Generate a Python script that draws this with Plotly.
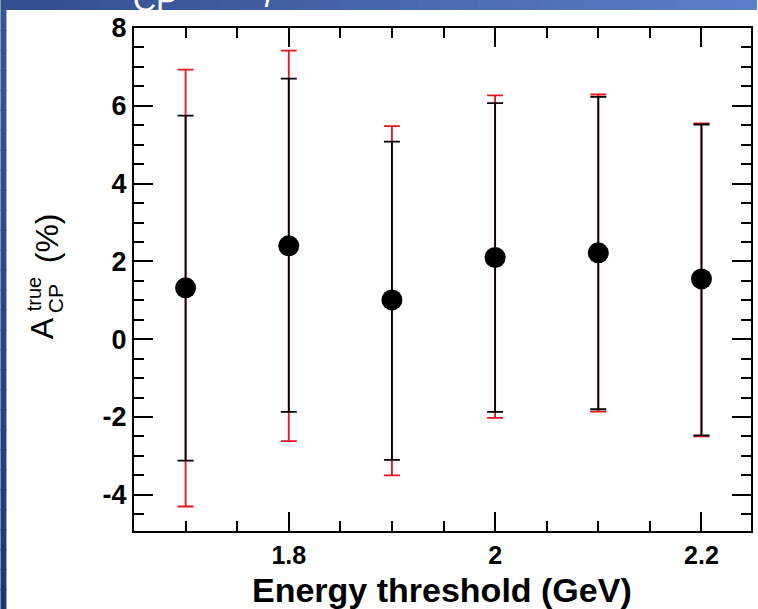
import plotly.graph_objects as go

# ---------------- data ----------------
threshold = [1.7, 1.8, 1.9, 2.0, 2.1, 2.2]          # GeV
acp = [1.32, 2.40, 1.01, 2.10, 2.22, 1.55]           # %
stat_hi = [5.75, 6.70, 5.08, 6.07, 6.23, 5.52]
stat_lo = [-3.12, -1.87, -3.10, -1.87, -1.80, -2.47]
tot_hi = [6.93, 7.42, 5.48, 6.27, 6.29, 5.55]
tot_lo = [-4.30, -2.62, -3.50, -2.02, -1.86, -2.50]

x_ticks = [1.8, 2.0, 2.2]
x_ticklabels = ["1.8", "2", "2.2"]
y_ticks = [-4, -2, 0, 2, 4, 6, 8]
y_ticklabels = ["-4", "-2", "0", "2", "4", "6", "8"]
x_title = "Energy threshold (GeV)"

# ---------------- geometry ----------------
W, H = 758, 609
L, R, T, B = 134, 753, 28, 531   # plot frame in pixels


def px(xp):
    return (xp - L) / (R - L)


def py(yp):
    return (B - yp) / (B - T)


stat_up = [h - v for h, v in zip(stat_hi, acp)]
stat_dn = [v - l for l, v in zip(stat_lo, acp)]
tot_up = [h - v for h, v in zip(tot_hi, acp)]
tot_dn = [v - l for l, v in zip(tot_lo, acp)]

fig = go.Figure()

# total (red) uncertainty
fig.add_trace(go.Scatter(
    x=threshold, y=acp, mode="markers",
    marker=dict(size=1, color="rgba(0,0,0,0)"),
    error_y=dict(type="data", symmetric=False, array=tot_up, arrayminus=tot_dn,
                 color="#e8141c", thickness=1.8, width=8),
    showlegend=False, hoverinfo="skip"))

# statistical (black) uncertainty + points
fig.add_trace(go.Scatter(
    x=threshold, y=acp, mode="markers",
    marker=dict(size=21, color="black", symbol="circle"),
    error_y=dict(type="data", symmetric=False, array=stat_up, arrayminus=stat_dn,
                 color="black", thickness=1.8, width=8),
    showlegend=False))

shapes = []
# blue slide background (gradient approximated by stripes)
c0 = (52, 78, 144)
c1 = (92, 126, 200)
n = 38
for i in range(n):
    f = i / (n - 1)
    col = "rgb(%d,%d,%d)" % tuple(int(a + (b - a) * f) for a, b in zip(c0, c1))
    shapes.append(dict(type="rect", xref="paper", yref="paper",
                       x0=px(i * W / n), x1=px((i + 1) * W / n + 1),
                       y0=py(10), y1=py(0), fillcolor=col, line_width=0, layer="below"))
m = 30
d0 = (56, 86, 150)
d1 = (33, 55, 118)
for i in range(m):
    f = i / (m - 1)
    col = "rgb(%d,%d,%d)" % tuple(int(a + (b - a) * f) for a, b in zip(d0, d1))
    shapes.append(dict(type="rect", xref="paper", yref="paper",
                       x0=px(0), x1=px(6),
                       y0=py(10 + (i + 1) * (H - 10) / m + 1), y1=py(10 + i * (H - 10) / m),
                       fillcolor=col, line_width=0, layer="below"))

annotations = [
    # cut-off slide title fragments
    dict(text="CP", xref="paper", yref="paper", x=px(131), y=py(20),
         xanchor="left", yanchor="bottom", showarrow=False,
         font=dict(family="Liberation Sans", size=32, color="white")),
    dict(text="γ", xref="paper", yref="paper", x=px(258), y=py(9),
         xanchor="left", yanchor="bottom", showarrow=False,
         font=dict(family="Liberation Sans", size=30, color="white")),
    # x axis title
    dict(text=x_title, xref="paper", yref="paper", x=px(443), y=py(590),
         xanchor="center", yanchor="middle", showarrow=False,
         font=dict(family="Liberation Sans", size=34, color="black", weight="bold")),
    # y axis title  A^true_CP (%)
    dict(text="A", xref="paper", yref="paper", x=px(42), y=py(328),
         xanchor="center", yanchor="middle", textangle=-90, showarrow=False,
         font=dict(family="Liberation Sans", size=32, color="black")),
    dict(text="true", xref="paper", yref="paper", x=px(34), y=py(294),
         xanchor="center", yanchor="middle", textangle=-90, showarrow=False,
         font=dict(family="Liberation Sans", size=20, color="black")),
    dict(text="CP", xref="paper", yref="paper", x=px(55), y=py(299),
         xanchor="center", yanchor="middle", textangle=-90, showarrow=False,
         font=dict(family="Liberation Sans", size=21, color="black")),
    dict(text="(%)", xref="paper", yref="paper", x=px(47), y=py(238),
         xanchor="center", yanchor="middle", textangle=-90, showarrow=False,
         font=dict(family="Liberation Sans", size=32, color="black")),
]

fig.update_layout(
    width=W, height=H,
    margin=dict(l=L, r=W - R, t=T, b=H - B, pad=0),
    paper_bgcolor="white", plot_bgcolor="white",
    shapes=shapes, annotations=annotations,
    showlegend=False,
)

fig.update_xaxes(
    range=[1.65, 2.248], tickvals=x_ticks, ticktext=x_ticklabels,
    ticks="inside", ticklen=19, tickwidth=1.5, tickcolor="black",
    minor=dict(dtick=0.05, tick0=1.65, ticks="inside", ticklen=10, tickwidth=1.5, tickcolor="black"),
    showline=True, linecolor="black", linewidth=2, mirror="ticks",
    showgrid=False, zeroline=False, ticklabelstandoff=1,
    tickfont=dict(family="Liberation Sans", size=25, color="black", weight="bold"),
)
fig.update_yaxes(
    range=[-4.93, 8], tickvals=y_ticks, ticktext=y_ticklabels,
    ticks="inside", ticklen=19, tickwidth=1.5, tickcolor="black",
    minor=dict(dtick=0.5, tick0=0, ticks="inside", ticklen=10, tickwidth=1.5, tickcolor="black"),
    showline=True, linecolor="black", linewidth=2, mirror="ticks",
    showgrid=False, zeroline=False,
    tickfont=dict(family="Liberation Sans", size=27, color="black", weight="bold"),
)

fig.write_html("out.html")
